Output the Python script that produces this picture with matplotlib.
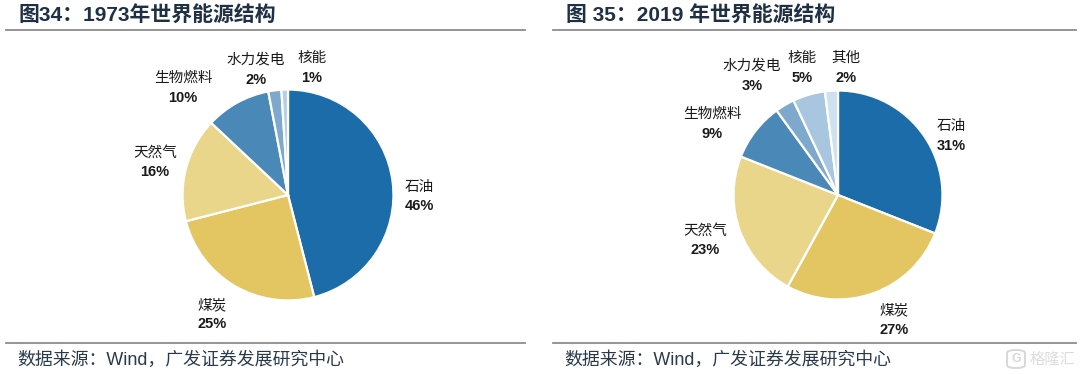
import matplotlib
matplotlib.use("Agg")
import matplotlib.pyplot as plt
from matplotlib.lines import Line2D
from matplotlib.patches import FancyBboxPatch

# Data
labels_1973 = ["石油", "煤炭", "天然气", "生物燃料", "水力发电", "核能"]
values_1973 = [46, 25, 16, 10, 2, 1]
labels_2019 = ["石油", "煤炭", "天然气", "生物燃料", "水力发电", "核能", "其他"]
values_2019 = [31, 27, 23, 9, 3, 5, 2]
title_1973 = "图34\uff1a1973年世界能源结构"
title_2019 = "图 35\uff1a2019 年世界能源结构"
source_text = "数据来源\uff1aWind\uff0c广发证券发展研究中心"

# Layout (pixels of the 1080x375 canvas)
W, H = 1080, 375
colors_1973 = ["#1B6CA8", "#E3C662", "#E9D68B", "#4A88B8", "#7FA9CC", "#B5CFE5"]
colors_2019 = ["#1B6CA8", "#E3C662", "#E9D68B", "#4A88B8", "#7FA9CC", "#A8C6DF", "#CFE0EE"]
label_xy_1973 = [(419, 187), (212, 305), (155, 153), (183, 78), (256, 60), (312, 58)]
label_xy_2019 = [(951, 126), (894, 310), (705, 231), (712, 114), (752, 66), (802, 58), (846, 58)]
CJK = ["Noto Sans CJK SC", "DejaVu Sans"]
MIXED = ["Liberation Sans", "Noto Sans CJK SC", "DejaVu Sans"]

fig = plt.figure(figsize=(W / 100, H / 100), dpi=100, facecolor="white")


def fx(x):
    return x / W


def fy(y):
    return 1 - y / H


def draw_pie(cx, cy, r, values, colors):
    ax = fig.add_axes([fx(cx - r), fy(cy + r), 2 * r / W, 2 * r / H])
    ax.pie(values, colors=colors, startangle=90, counterclock=False, radius=1,
           wedgeprops=dict(edgecolor="white", linewidth=1.6))
    ax.set_xlim(-1.01, 1.01)
    ax.set_ylim(-1.01, 1.01)
    ax.set_aspect("equal")
    ax.axis("off")


def draw_labels(names, values, positions):
    for name, val, (x, y) in zip(names, values, positions):
        fig.text(fx(x), fy(y), name, family=CJK, fontsize=10.5, color="#1a1a1a",
                 ha="center", va="center")
        fig.text(fx(x), fy(y + 19.5), f"{val}%", family=MIXED, fontsize=10.5,
                 fontweight="bold", color="#1a1a1a", ha="center", va="center")


def rule(x0, x1, y):
    fig.add_artist(Line2D([fx(x0), fx(x1)], [fy(y), fy(y)], color="#8c8c8c",
                          linewidth=1.3, transform=fig.transFigure))


draw_pie(288, 195, 106.5, values_1973, colors_1973)
draw_pie(838, 195, 105.5, values_2019, colors_2019)
draw_labels(labels_1973, values_1973, label_xy_1973)
draw_labels(labels_2019, values_2019, label_xy_2019)

for x0, x1, title, tx, sx in [(6, 525, title_1973, 18, 17),
                              (553, 1076, title_2019, 566, 564)]:
    rule(x0, x1, 30)
    rule(x0, x1, 342.5)
    fig.text(fx(tx), fy(14.5), title, family=MIXED, fontsize=15, fontweight="bold",
             color="#1F3044", ha="left", va="center")
    fig.text(fx(sx), fy(360.5), source_text, family=MIXED, fontsize=12.9, color="#2b3a4a",
             ha="left", va="center")

# Watermark
fig.add_artist(FancyBboxPatch((fx(1007), fy(368)), 18 / W, 18 / H,
                              boxstyle="round,pad=0,rounding_size=0.008",
                              transform=fig.transFigure, fill=False,
                              edgecolor="#d8d8d8", linewidth=1.4))
fig.text(fx(1016), fy(359), "G", family=MIXED, fontsize=9, fontweight="bold",
         color="#d8d8d8", ha="center", va="center")
fig.text(fx(1030), fy(359), "格隆汇", family=CJK, fontsize=11, color="#dcdcdc",
         ha="left", va="center")

fig.savefig("out.png", dpi=100, facecolor="white")
